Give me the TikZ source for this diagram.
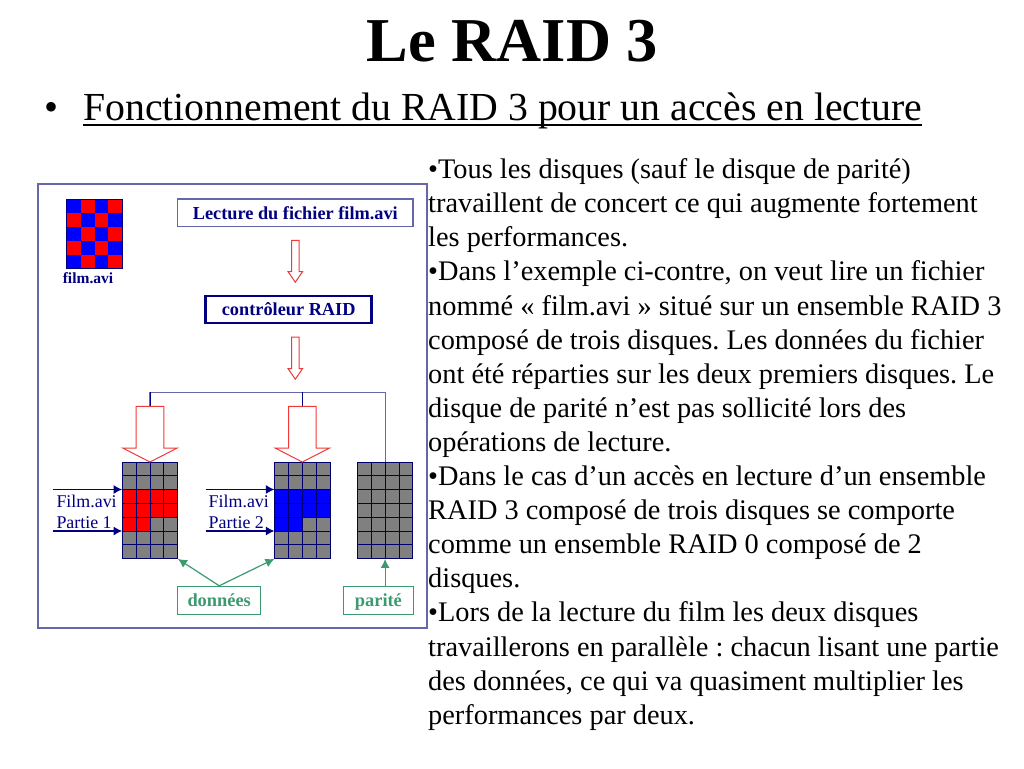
\documentclass[tikz,border=0pt]{standalone}
\usepackage{fontspec}
\setmainfont{Liberation Serif}
\usetikzlibrary{arrows.meta}
\frenchspacing
\definecolor{framec}{HTML}{6666AA}
\definecolor{navyc}{HTML}{000080}
\definecolor{greenc}{HTML}{3C9A70}
\definecolor{redc}{HTML}{F03A3A}
\definecolor{greyc}{HTML}{808080}
\newcommand{\smallblock}[3]{%
  \draw[blockline] (#1-3.7,#2) -- (#1+3.7,#2) -- (#1+3.7,#2+#3) -- (#1+7.2,#2+#3) -- (#1,#2+#3+10.5) -- (#1-7.2,#2+#3) -- (#1-3.7,#2+#3) -- cycle;}
\newcommand{\bigblock}[1]{%
  \draw[blockline] (#1-13.8,406.3) -- (#1+13.8,406.3) -- (#1+13.8,448) -- (#1+27.3,448) -- (#1,462) -- (#1-27.3,448) -- (#1-13.8,448) -- cycle;}
\newcommand{\diskgrid}[1]{%
  \fill[greyc] (#1,462) rectangle (#1+55.4,558.7);}
\newcommand{\diskgridlines}[1]{%
  \foreach \i in {0,...,4} \draw[gridline] (#1+\i*13.85,462) -- (#1+\i*13.85,558.7);
  \foreach \j in {0,...,7} \draw[gridline] (#1,462+\j*13.81) -- (#1+55.4,462+\j*13.81);}
\newcommand{\datafill}[2]{%
  \fill[#2] (#1,489.6) rectangle (#1+55.4,531.1-13.81);
  \fill[#2] (#1,531.1-13.81) rectangle (#1+27.7,531.1);}
\tikzset{
  x=1pt,y=-1pt,
  blockline/.style={draw=redc,fill=white,line width=1pt,line join=miter},
  gridline/.style={draw=navyc!85!black,line width=0.9pt},
  labelbox/.style={draw=framec,line width=1.2pt,fill=white,text=navyc,font=\fontsize{18.3}{20}\selectfont\bfseries,inner sep=0pt},
  greenbox/.style={draw=greenc,line width=1.1pt,fill=white,text=greenc,font=\fontsize{18.4}{20}\selectfont\bfseries,inner sep=0pt,text height=14.5pt,text depth=1.5pt},
  treeline/.style={draw=framec,line width=1.1pt},
  darktree/.style={draw=navyc,line width=0.9pt},
  navyarrow/.style={draw=navyc,line width=1.2pt,-{Latex[length=8.5pt,width=9pt]}},
  greenarrow/.style={draw=greenc,line width=1.2pt,-{Latex[length=9pt,width=9pt]}},
  parttext/.style={text=navyc,font=\fontsize{17.9}{20}\selectfont,inner sep=0pt,anchor=base west},
}
\begin{document}
\begin{tikzpicture}
\useasboundingbox (0,0) rectangle (1024,768);
\fill[white] (0,0) rectangle (1024,768);
% titles
\node[font=\fontsize{62.4}{70}\selectfont\bfseries,anchor=base,inner sep=0pt] (title) at (512.5,61) {Le RAID 3};
\node[font=\fontsize{40}{44}\selectfont,anchor=base west,inner sep=0pt] (bullet) at (44,120.7) {•};
\node[font=\fontsize{39.75}{44}\selectfont,anchor=base west,inner sep=0pt] (sub) at (83,120.7) {Fonctionnement du RAID 3 pour un accès en lecture};
\coordinate (uline) at (0,125);
\draw[line width=1.8pt] (sub.west |- uline) -- (sub.east |- uline);
% body text
\node[font=\fontsize{28.35}{34.1}\selectfont,anchor=north west,align=left,inner sep=0pt] (body) at (428,158.5) {%
•Tous les disques (sauf le disque de parité)\\
travaillent de concert ce qui augmente fortement\\
les performances.\\
•Dans l’exemple ci-contre, on veut lire un fichier\\
nommé « film.avi » situé sur un ensemble RAID 3\\
composé de trois disques. Les données du fichier\\
ont été réparties sur les deux premiers disques. Le\\
disque de parité n’est pas sollicité lors des\\
opérations de lecture.\\
•Dans le cas d’un accès en lecture d’un ensemble\\
RAID 3 composé de trois disques se comporte\\
comme un ensemble RAID 0 composé de 2\\
disques.\\
•Lors de la lecture du film les deux disques\\
travaillerons en parallèle : chacun lisant une partie\\
des données, ce qui va quasiment multiplier les\\
performances par deux.};
% frame
\draw[draw=framec,line width=1.4pt] (38,184) rectangle (427,628);
% checker icon
\foreach \r in {0,...,4} \foreach \c in {0,...,3} {
  \pgfmathparse{int(mod(\r+\c,2))}
  \ifnum\pgfmathresult=0 \fill[blue] (66.7+\c*13.9,199+\r*13.9) rectangle ++(13.9,13.9);
  \else \fill[red] (66.7+\c*13.9,199+\r*13.9) rectangle ++(13.9,13.9); \fi
}
\draw[navyc,line width=0.6pt] (66.7,199) rectangle (122.3,268.5);
\node[text=navyc,font=\fontsize{15.5}{17}\selectfont\bfseries,anchor=base,inner sep=0pt] (filmlabel) at (88,283) {film.avi};
% boxes
\node[labelbox,minimum width=235.3pt,minimum height=27.7pt] (lecture) at (295.3,212.8) {Lecture du fichier film.avi};
\node[labelbox,draw=navyc,line width=2.6pt,minimum width=166pt,minimum height=27pt] (ctrl) at (288.7,309.5) {contrôleur RAID};
% small arrows
\smallblock{295.3}{240.3}{31.4}
\smallblock{295.3}{337}{31.7}
% tree
\coordinate (tl) at (150,392.3);
\coordinate (tm) at (302.3,392.3);
\coordinate (tr) at (385.7,392.3);
\coordinate (a1top) at (150,406.3);
\coordinate (a2top) at (302.3,406.3);
\coordinate (d3top) at (385.7,462);
\draw[treeline] (a1top) -- (tl) -- (tr) -- (d3top);
\draw[darktree] (a1top) -- (tl);
\draw[darktree] (a2top) -- (tm);
% disks
\diskgrid{122.3}\datafill{122.3}{red}\diskgridlines{122.3}
\diskgrid{274.6}\datafill{274.6}{blue}\diskgridlines{274.6}
\diskgrid{357.4}\diskgridlines{357.4}
\node[minimum width=55.4pt,minimum height=96.7pt,inner sep=0pt] (d1) at (150,510.35) {};
\node[minimum width=55.4pt,minimum height=96.7pt,inner sep=0pt] (d2) at (302.3,510.35) {};
\node[minimum width=55.4pt,minimum height=96.7pt,inner sep=0pt] (d3) at (385.1,510.35) {};
\bigblock{150}
\bigblock{302.3}
% navy arrows
\coordinate (s1a) at (52.7,489.5);
\coordinate (s1b) at (52.7,531);
\coordinate (s2a) at (205.7,489.5);
\coordinate (s2b) at (205.7,531);
\draw[navyarrow] (s1a) -- (s1a -| d1.west);
\draw[navyarrow] (s1b) -- (s1b -| d1.west);
\draw[navyarrow] (s2a) -- (s2a -| d2.west);
\draw[navyarrow] (s2b) -- (s2b -| d2.west);
\node[parttext] (f1) at (56.3,507.5) {Film.avi};
\node[parttext] (p1) at (56.3,528.5) {Partie 1};
\node[parttext] (f2) at (208.5,507.5) {Film.avi};
\node[parttext] (p2) at (208.5,528.5) {Partie 2};
% green
\node[greenbox,minimum width=83pt,minimum height=27.7pt] (don) at (219.2,600.2) {données};
\node[greenbox,minimum width=69.3pt,minimum height=27.7pt] (par) at (378.4,600.2) {parité};
\draw[greenarrow] (don.north) -- (d1.south east);
\draw[greenarrow] (don.north) -- (d2.south west);
\draw[greenarrow] (par.north -| d3.south) -- (d3.south);
\end{tikzpicture}
\end{document}
